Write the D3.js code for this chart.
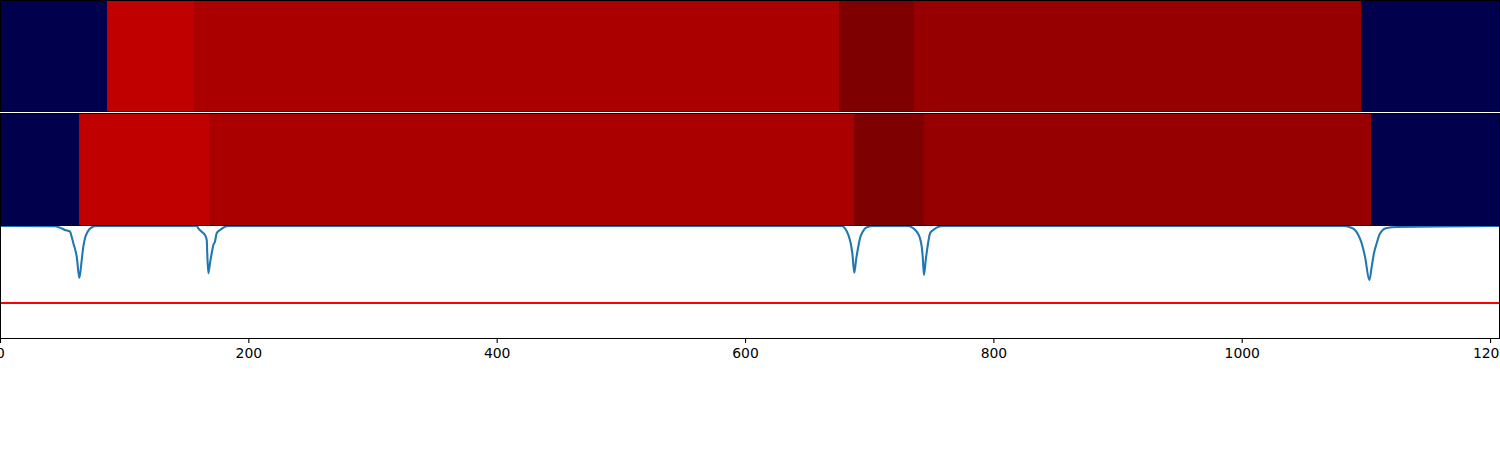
<!DOCTYPE html>
<html>
<head>
<meta charset="utf-8">
<script src="https://cdn.jsdelivr.net/npm/d3@7"></script>
<style>
  html, body { margin: 0; padding: 0; background: #fff; }
  svg { display: block; }
</style>
</head>
<body>
<svg id="chart" width="1500" height="450"></svg>
<script>
// ---- data ----
const xMax = 1208;
const xTicks = [0, 200, 400, 600, 800, 1000, 1200];

// top strip: segment boundaries and values (seismic colormap, 0..1)
const topBounds = [0, 86.2, 156.2, 675.9, 736.1, 1096.1, 1208];
const topValues = [0, 0.8735, 0.915, 1.0, 0.956, 0];

// middle strip
const midBounds = [0, 63.6, 168.3, 687.8, 744.2, 1104.1, 1208];
const midValues = [0, 0.8735, 0.915, 1.0, 0.956, 0];

// bottom: score line
const lineX = [0, 44.3, 49.9, 52.3, 56.4, 57.7, 59.0, 61.8, 63.9, 65.8, 67.1, 68.5, 70.6, 73.9, 77.9,
  158.4, 159.7, 162.4, 165.1, 166.5, 166.9, 167.8, 169.1, 170.5, 171.8, 173.1, 174.5, 177.2, 181.2, 183.9,
  677.9, 680.5, 683.2, 685.1, 686.4, 688.0, 689.4, 691.2, 692.6, 694.8, 698.0, 703.3,
  731.5, 735.5, 738.3, 740.9, 742.3, 743.1, 744.1, 745.5, 746.8, 747.6, 749.0, 751.6, 755.7, 759.7,
  1081.8, 1087.2, 1091.2, 1093.9, 1096.6, 1099.3, 1102.8, 1104.7, 1106.5, 1108.7, 1110.8, 1113.6, 1116.8, 1124.8, 1208];
const lineV = [0.991, 0.989, 0.969, 0.956, 0.941, 0.896, 0.841, 0.719, 0.531, 0.690, 0.808, 0.885, 0.941, 0.980, 0.991,
  0.991, 0.971, 0.941, 0.912, 0.867, 0.752, 0.573, 0.661, 0.750, 0.823, 0.852, 0.927, 0.956, 0.985, 0.991,
  0.991, 0.971, 0.912, 0.838, 0.750, 0.578, 0.690, 0.808, 0.882, 0.941, 0.980, 0.991,
  0.991, 0.971, 0.941, 0.882, 0.808, 0.719, 0.558, 0.690, 0.794, 0.852, 0.927, 0.956, 0.985, 0.991,
  0.991, 0.980, 0.956, 0.912, 0.838, 0.719, 0.513, 0.631, 0.750, 0.838, 0.912, 0.956, 0.973, 0.982, 0.991];
const threshold = 0.31;

// ---- drawing ----
const svg = d3.select("#chart");
const W = 1500;
const x = d3.scaleLinear().domain([0, xMax]).range([0, W]);
const seismic = d3.scaleLinear()
  .domain([0, 0.25, 0.5, 0.75, 1])
  .range(["#00004c", "#0000ff", "#ffffff", "#ff0000", "#7f0000"])
  .interpolate(d3.interpolateRgb);

const panels = [
  {y0: 0, y1: 112},
  {y0: 112.5, y1: 225},
  {y0: 225, y1: 338}
];

function strip(bounds, values, p) {
  const segs = values.map((v, i) => ({x0: bounds[i], x1: bounds[i + 1], v}));
  svg.append("g").selectAll("rect").data(segs).join("rect")
    .attr("x", d => x(d.x0))
    .attr("width", d => x(d.x1) - x(d.x0) + 0.5)
    .attr("y", p.y0)
    .attr("height", p.y1 - p.y0)
    .attr("fill", d => seismic(d.v))
    .attr("shape-rendering", "crispEdges");
}
strip(topBounds, topValues, {y0: 0, y1: 111.5});
strip(midBounds, midValues, {y0: 113.5, y1: 225});

// bottom panel
const y = d3.scaleLinear().domain([0, 1]).range([338, 225]);
svg.append("clipPath").attr("id", "clip3")
  .append("rect").attr("x", 0).attr("y", 225).attr("width", W).attr("height", 113);

const g3 = svg.append("g").attr("clip-path", "url(#clip3)");
g3.append("line")
  .attr("x1", x(0)).attr("x2", x(xMax))
  .attr("y1", y(threshold)).attr("y2", y(threshold))
  .attr("stroke", "#ff0000").attr("stroke-width", 2.08);

const pts = lineX.map((d, i) => [d, lineV[i]]);
g3.append("path")
  .datum(pts)
  .attr("fill", "none")
  .attr("stroke", "#1f77b4")
  .attr("stroke-width", 2.08)
  .attr("stroke-linejoin", "round")
  .attr("d", d3.line().x(d => x(d[0])).y(d => y(d[1])).curve(d3.curveMonotoneX));

// frames
const frames = [
  {y0: 0.5, y1: 111.5},
  {y0: 113, y1: 225.5},
  {y0: 225.5, y1: 338}
];
svg.append("g").selectAll("rect").data(frames).join("rect")
  .attr("x", 0.5).attr("y", d => d.y0)
  .attr("width", W - 1).attr("height", d => d.y1 - d.y0)
  .attr("fill", "none").attr("stroke", "#000").attr("stroke-width", 1)
  .attr("shape-rendering", "crispEdges");

// x axis
const axis = d3.axisBottom(x).tickValues(xTicks).tickSize(4.9).tickPadding(4.9).tickFormat(d3.format("d"));
const ga = svg.append("g").attr("transform", "translate(0,338)").call(axis);
ga.select(".domain").remove();
ga.selectAll(".tick line").attr("stroke", "#000").attr("stroke-width", 1.1);
ga.selectAll(".tick text")
  .attr("fill", "#000")
  .style("font-family", "DejaVu Sans, sans-serif")
  .style("font-size", "13.9px");
</script>
</body>
</html>
